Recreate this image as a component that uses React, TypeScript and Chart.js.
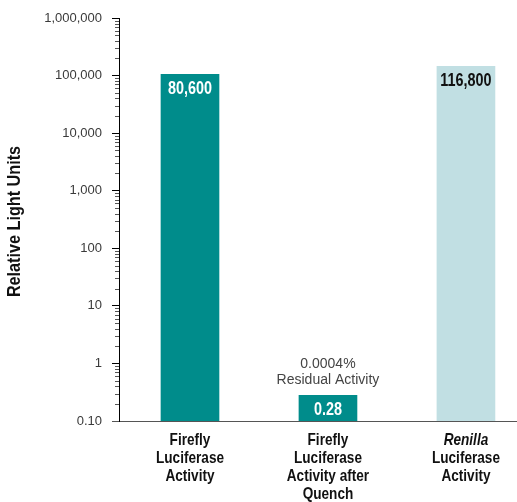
import React, { useEffect, useRef } from "react";
import { Chart, registerables } from "chart.js";

Chart.register(...registerables);

// ---- data ----
const categoryLines: string[][] = [
  ["Firefly", "Luciferase", "Activity"],
  ["Firefly", "Luciferase", "Activity after", "Quench"],
  ["Renilla", "Luciferase", "Activity"],
];
const italicWords: string[] = ["Renilla"];
const barValues: number[] = [105000, 0.28, 145000];
const valueLabels: string[] = ["80,600", "0.28", "116,800"];
const barColors: string[] = ["#008c8b", "#008c8b", "#c1dfe3"];
const valueLabelColors: string[] = ["#ffffff", "#ffffff", "#111111"];
const annotationLines: string[] = ["0.0004%", "Residual Activity"];
const annotationIndex = 1;
const yTickValues: number[] = [0.1, 1, 10, 100, 1000, 10000, 100000, 1000000];
const yTickLabels: string[] = ["0.10", "1", "10", "100", "1,000", "10,000", "100,000", "1,000,000"];
const yTitle = "Relative Light Units";

const BOLD = "'Liberation Sans', Arial, sans-serif";
const REGULAR = "'Liberation Sans', Arial, sans-serif";

function narrowText(ctx: CanvasRenderingContext2D, text: string, x: number, y: number, sx: number, rot = 0) {
  ctx.save();
  ctx.translate(x, y);
  if (rot) ctx.rotate(rot);
  ctx.scale(sx, 1);
  ctx.fillText(text, 0, 0);
  ctx.restore();
}

const labelsPlugin = {
  id: "customLabels",
  afterDatasetsDraw(chart: any) {
    const ctx = chart.ctx as CanvasRenderingContext2D;
    const meta = chart.getDatasetMeta(0);
    const xs = chart.scales.x;
    const ys = chart.scales.y;
    const area = chart.chartArea;
    ctx.save();
    // minor ticks
    ctx.strokeStyle = "#555";
    ctx.lineWidth = 1;
    for (let k = -1; k < 6; k++) {
      for (let m = 2; m <= 9; m++) {
        const v = m * Math.pow(10, k);
        const py = Math.round(ys.getPixelForValue(v)) + 0.5;
        ctx.beginPath();
        ctx.moveTo(area.left - 4, py);
        ctx.lineTo(area.left, py);
        ctx.stroke();
      }
    }
    ctx.textAlign = "center";
    ctx.textBaseline = "middle";
    // value labels inside bars
    ctx.font = `bold 18px ${BOLD}`;
    meta.data.forEach((bar: any, i: number) => {
      ctx.fillStyle = valueLabelColors[i];
      narrowText(ctx, valueLabels[i], bar.x, bar.y + 15, 0.8);
    });
    // annotation
    const ab = meta.data[annotationIndex];
    ctx.font = `14px ${REGULAR}`;
    ctx.fillStyle = "#444";
    annotationLines.forEach((t, j) => {
      ctx.fillText(t, ab.x, ab.y - 31 + j * 16);
    });
    // category labels
    ctx.fillStyle = "#111";
    categoryLines.forEach((lines, i) => {
      const x = xs.getPixelForValue(i);
      lines.forEach((t, j) => {
        const it = italicWords.includes(t) ? "italic " : "";
        ctx.font = `${it}bold 17px ${BOLD}`;
        narrowText(ctx, t, x, area.bottom + 19 + j * 18, 0.8);
      });
    });
    // y title
    ctx.font = `bold 18px ${BOLD}`;
    narrowText(ctx, yTitle, 15, (area.top + area.bottom) / 2 + 2, 0.9, -Math.PI / 2);
    ctx.restore();
  },
};

export default function App() {
  const ref = useRef<HTMLCanvasElement | null>(null);
  useEffect(() => {
    document.body.style.margin = "0";
    const canvas = ref.current!;
    const chart = new Chart(canvas, {
      type: "bar",
      data: {
        datasets: [
          {
            data: barValues.map((v, i) => ({ x: i, y: v })),
            backgroundColor: barColors,
            barThickness: 58,
            borderWidth: 0,
          },
        ],
      },
      options: {
        animation: false,
        responsive: false,
        devicePixelRatio: 1,
        layout: { padding: { top: 18, right: 0, bottom: 0, left: 0 } },
        plugins: { legend: { display: false }, tooltip: { enabled: false } },
        scales: {
          x: {
            type: "linear",
            offset: false,
            min: -0.5145,
            max: 2.37,
            grid: { display: false },
            border: { display: true, color: "#555", width: 1 },
            ticks: { display: false },
            afterFit: (s: any) => {
              s.height = 81;
            },
          },
          y: {
            type: "logarithmic",
            min: 0.1,
            max: 1000000,
            afterBuildTicks: (s: any) => {
              s.ticks = yTickValues.map((v) => ({ value: v, major: true }));
            },
            afterFit: (s: any) => {
              s.width = 119;
            },
            ticks: {
              autoSkip: false,
              padding: 10,
              color: "#3a3a3a",
              font: { family: REGULAR, size: 13 },
              callback: (v: any) => {
                const idx = yTickValues.findIndex((t) => Math.abs(t - v) < 1e-9 * Math.max(1, t));
                return idx >= 0 ? yTickLabels[idx] : "";
              },
            },
            grid: {
              drawOnChartArea: false,
              drawTicks: true,
              tickLength: 7,
              tickColor: (c: any) => (c.tick && c.tick.value === 0.1 ? "#555" : "#000"),
            },
            border: { display: true, color: "#000", width: 1 },
            title: { display: false },
          },
        },
      },
      plugins: [labelsPlugin],
    } as any);
    return () => chart.destroy();
  }, []);
  return <canvas ref={ref} width={517} height={502} style={{ display: "block" }} />;
}
